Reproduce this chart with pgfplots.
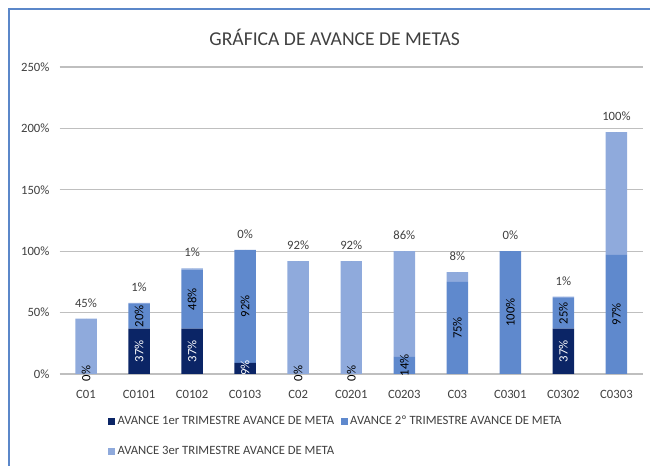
\documentclass[border=0pt]{standalone}
\usepackage{pgfplots}
\pgfplotsset{compat=1.18}
\usepackage{pgfplotstable}
\usepackage{fontspec}
\setmainfont{Carlito}
\definecolor{sone}{HTML}{0B2566}
\definecolor{stwo}{HTML}{5F89CD}
\definecolor{sthree}{HTML}{8FAADC}
\definecolor{frame}{HTML}{5B87C9}
\definecolor{txt}{HTML}{404040}
\definecolor{grid}{HTML}{D9D9D9}

\pgfplotstableread{
x s1 s2 s3
0 0 0 0.45
1 0.37 0.20 0.01
2 0.37 0.48 0.01
3 0.09 0.92 0.00
4 0 0 0.92
5 0 0 0.92
6 0 0.14 0.86
7 0 0.75 0.08
8 0 1.00 0.00
9 0.37 0.25 0.01
10 0 0.97 1.00
}\datatable

\pgfplotstableread{
x y v
1 0.185 37
2 0.185 37
3 0.05 9
9 0.185 37
}\whitelabels

\pgfplotstableread{
x y v
0 0.005 0
1 0.47 20
2 0.61 48
3 0.55 92
4 0.005 0
5 0.005 0
6 0.07 14
7 0.375 75
8 0.5 100
9 0.495 25
10 0.485 97
}\blacklabels

\pgfplotstableread{
x y v
0 0.45 45
1 0.58 1
2 0.86 1
3 1.01 0
4 0.92 92
5 0.92 92
6 1.00 86
7 0.83 8
8 1.00 0
9 0.63 1
10 1.97 100
}\toplabels

\begin{document}
\begin{tikzpicture}
\useasboundingbox (0pt,0pt) rectangle (487.5pt,349.5pt);
\draw[frame, line width=1.5pt] (7.1pt,0pt) -- (7.1pt,342.4pt) -- (495pt,342.4pt);
\node[txt, font=\fontsize{14.7}{17}\selectfont] at (251pt,321.75pt) {GRÁFICA DE AVANCE DE METAS};

\pgfplotsset{
  base/.style={
    scale only axis,
    width=437.6pt, height=230.25pt,
    at={(44.625pt,69pt)}, anchor=south west,
    xmin=-0.5, xmax=10.5, ymin=0, ymax=2.5,
    clip=false,
    /pgf/number format/assume math mode=true,
  }
}

\begin{axis}[base,
  ybar stacked, bar width=16.1pt,
  axis line style={draw=none},
  tick style={draw=none},
  xmajorgrids=false,
  ytick={0,0.5,1,1.5,2,2.5},
  yticklabels={0\%,50\%,100\%,150\%,200\%,250\%},
  ymajorgrids, grid style={grid, line width=0.8pt},
  major tick length=0pt,
  xtick={0,...,10},
  xticklabels={C01,C0101,C0102,C0103,C02,C0201,C0203,C03,C0301,C0302,C0303},
  tick label style={txt, font=\fontsize{9.5}{11}\selectfont},
  yticklabel style={xshift=-4pt},
  xticklabel style={yshift=-8.5pt},
  legend columns=2,
  legend style={at={(0.083,-0.127)}, anchor=north west, draw=none,
    font=\fontsize{9.5}{11}\selectfont, text=txt,
    /tikz/every even column/.append style={column sep=3pt},
    row sep=11pt, inner sep=0pt},
  legend image code/.code={\fill[#1] (0pt,-2.5pt) rectangle (5pt,2.5pt);},
  legend cell align=left,
]
\addplot[fill=sone, draw=none] table[x=x, y=s1] {\datatable};
\addlegendentry{AVANCE 1er TRIMESTRE AVANCE DE META}
\addplot[fill=stwo, draw=none] table[x=x, y=s2] {\datatable};
\addlegendentry{AVANCE 2º TRIMESTRE AVANCE DE META}
\addplot[fill=sthree, draw=none] table[x=x, y=s3] {\datatable};
\addlegendentry{AVANCE 3er TRIMESTRE AVANCE DE META}
\end{axis}

\begin{axis}[base, axis lines=none, ticks=none]
\addplot[only marks, mark=*, mark size=0pt, mark options={draw=none,fill=none},
  point meta=explicit,
  nodes near coords={\pgfmathprintnumber{\pgfplotspointmeta}\%},
  every node near coord/.style={white, rotate=90, anchor=center,
    font=\fontsize{9.5}{11}\selectfont}]
  table[x=x, y=y, meta=v] {\whitelabels};
\addplot[only marks, mark=*, mark size=0pt, mark options={draw=none,fill=none},
  point meta=explicit,
  nodes near coords={\pgfmathprintnumber{\pgfplotspointmeta}\%},
  every node near coord/.style={black, rotate=90, anchor=center,
    font=\fontsize{9.5}{11}\selectfont}]
  table[x=x, y=y, meta=v] {\blacklabels};
\addplot[only marks, mark=*, mark size=0pt, mark options={draw=none,fill=none},
  point meta=explicit,
  nodes near coords={\pgfmathprintnumber{\pgfplotspointmeta}\%},
  every node near coord/.style={txt, anchor=south, yshift=5pt,
    font=\fontsize{9.5}{11}\selectfont}]
  table[x=x, y=y, meta=v] {\toplabels};
\end{axis}
\end{tikzpicture}
\end{document}
